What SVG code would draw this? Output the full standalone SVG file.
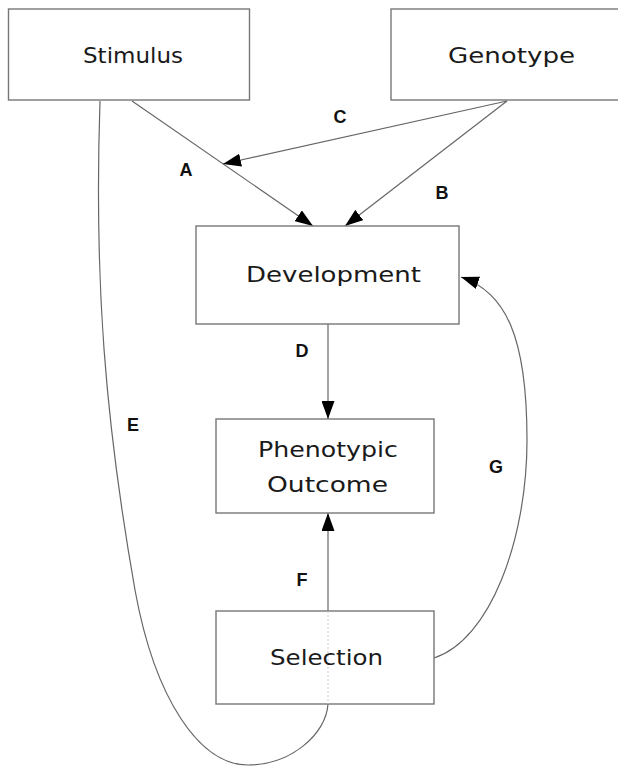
<svg xmlns="http://www.w3.org/2000/svg" width="618" height="767" viewBox="0 0 618 767">
<style>
.box{fill:#fff;stroke:#777;stroke-width:1.4}
.nt{font-family:"DejaVu Sans","Liberation Sans",sans-serif;font-size:22px;fill:#1a1a1a;text-anchor:middle}
.lb{font-family:"Liberation Sans",Arial,sans-serif;font-size:18px;font-weight:bold;fill:#111;text-anchor:middle}
.ln{fill:none;stroke:#666;stroke-width:1.2}
</style>
<defs>
<marker id="ah" viewBox="0 0 18 13" refX="18" refY="6.5" markerWidth="18" markerHeight="13" markerUnits="userSpaceOnUse" orient="auto">
<path d="M0,0 L18,6.5 L0,13 z" fill="#000"/>
</marker>
</defs>
<rect width="618" height="767" fill="#fff"/>
<g id="connectors">
<path class="ln" d="M100,101 C94,280 105,420 135,590 C155,700 200,765 248,765 C290,765 326,735 328,704"/>
<line x1="328" y1="611" x2="328" y2="704" stroke="#ccc" stroke-width="1" stroke-dasharray="2,2"/>
<line class="ln" x1="132" y1="101" x2="313" y2="226" marker-end="url(#ah)"/>
<line class="ln" x1="507" y1="101" x2="345" y2="226" marker-end="url(#ah)"/>
<line class="ln" x1="507" y1="101" x2="223" y2="164" marker-end="url(#ah)"/>
<line class="ln" x1="328" y1="324" x2="328" y2="419" marker-end="url(#ah)"/>
<line class="ln" x1="328" y1="611" x2="328" y2="513" marker-end="url(#ah)"/>
<path class="ln" d="M434,658 C490,640 527,540 527,440 C527,335 505,292 461,277" marker-end="url(#ah)"/>
<text class="lb" x="340" y="123">C</text>
<text class="lb" x="186" y="176">A</text>
<text class="lb" x="442" y="199">B</text>
<text class="lb" x="302" y="357">D</text>
<text class="lb" x="133" y="431">E</text>
<text class="lb" x="496" y="473">G</text>
<text class="lb" x="302" y="586">F</text>
</g>
<g id="stimulus">
<rect class="box" x="8.5" y="9" width="241" height="91"/>
<text class="nt" x="133" y="63" textLength="100" lengthAdjust="spacingAndGlyphs">Stimulus</text>
</g>
<g id="genotype">
<rect class="box" x="391" y="9" width="232" height="91"/>
<text class="nt" x="511.5" y="63" textLength="127" lengthAdjust="spacingAndGlyphs">Genotype</text>
</g>
<g id="development">
<rect class="box" x="196" y="226" width="263" height="98"/>
<text class="nt" x="333.5" y="282" textLength="175" lengthAdjust="spacingAndGlyphs">Development</text>
</g>
<g id="phenotypic">
<rect class="box" x="216" y="419" width="218" height="94"/>
<text class="nt" x="328" y="457" textLength="140" lengthAdjust="spacingAndGlyphs">Phenotypic</text>
<text class="nt" x="327.5" y="492" textLength="121" lengthAdjust="spacingAndGlyphs">Outcome</text>
</g>
<g id="selection">
<rect class="box" x="216" y="611" width="218" height="93"/>
<line x1="328" y1="611" x2="328" y2="704" stroke="#ccc" stroke-width="1" stroke-dasharray="2,2"/>
<text class="nt" x="326.5" y="665" textLength="113" lengthAdjust="spacingAndGlyphs">Selection</text>
</g>
</svg>
